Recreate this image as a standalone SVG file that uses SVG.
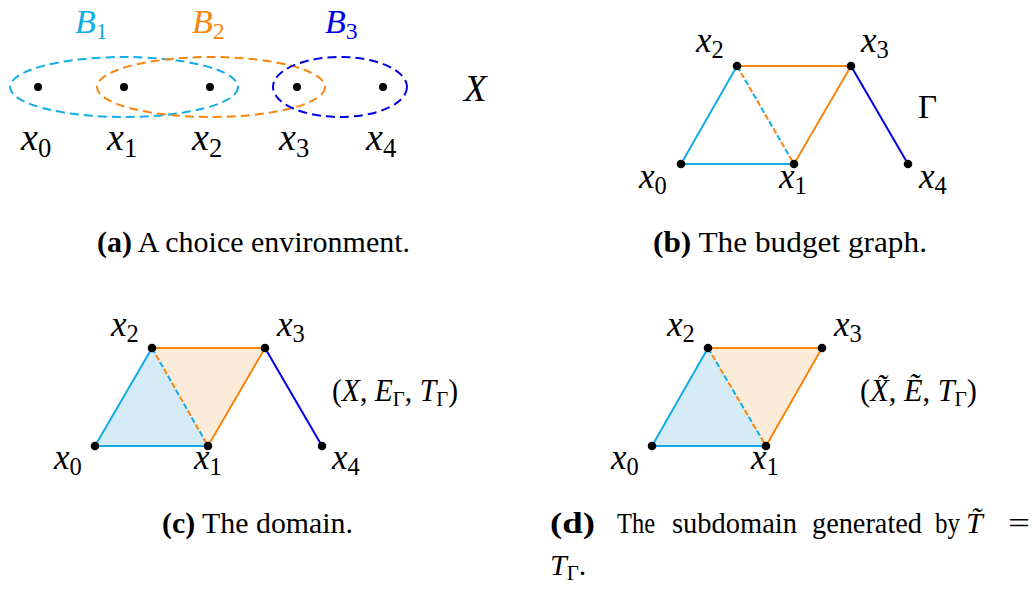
<svg xmlns="http://www.w3.org/2000/svg" width="1035" height="592" viewBox="0 0 1035 592">
<style>
.m{font-family:"Liberation Serif","Times New Roman",serif;font-style:italic;fill:#000}
.up{font-style:normal}
.sub{font-style:normal;font-size:70%}
.cap{font-family:"Liberation Serif","Times New Roman",serif;font-size:30px;fill:#000}
.b{font-weight:bold}
.dot{fill:#000}
.set{fill:none;stroke-width:2;stroke-dasharray:9 5}
.e{fill:none;stroke-width:2;stroke-linecap:round}
.cy{stroke:#13ACE6}
.or{stroke:#F7860F}
.bl{stroke:#0000E6}
.dc{stroke:#13ACE6;stroke-width:2;fill:none;stroke-dasharray:6 10}
.do{stroke:#F7860F;stroke-width:2;fill:none;stroke-dasharray:6 10;stroke-dashoffset:8}
.fb{fill:#D5EBF7}
.fo{fill:#FDEBD9}
</style>
<rect width="1035" height="592" fill="#fff"/>

<!-- Panel (a) -->
<g id="a-sets">
  <g id="set-B1">
    <ellipse class="set cy" cx="124" cy="87" rx="114" ry="30"/>
    <text class="m" x="75" y="33" font-size="34" style="fill:#13ACE6">B<tspan class="sub" dy="6">1</tspan></text>
  </g>
  <g id="set-B2">
    <ellipse class="set or" cx="211" cy="87" rx="114" ry="30"/>
    <text class="m" x="192" y="33" font-size="34" style="fill:#F7860F">B<tspan class="sub" dy="6">2</tspan></text>
  </g>
  <g id="set-B3">
    <ellipse class="set bl" cx="340" cy="87" rx="67" ry="30"/>
    <text class="m" x="325" y="33" font-size="34" style="fill:#0000E6">B<tspan class="sub" dy="6">3</tspan></text>
  </g>
</g>
<g id="a-nodes">
  <g id="a-x0"><circle class="dot" cx="38" cy="87" r="4"/><text class="m" x="21" y="150" font-size="38">x<tspan class="sub" dy="7">0</tspan></text></g>
  <g id="a-x1"><circle class="dot" cx="124" cy="87" r="4"/><text class="m" x="107" y="150" font-size="38">x<tspan class="sub" dy="7">1</tspan></text></g>
  <g id="a-x2"><circle class="dot" cx="210" cy="87" r="4"/><text class="m" x="192" y="150" font-size="38">x<tspan class="sub" dy="7">2</tspan></text></g>
  <g id="a-x3"><circle class="dot" cx="297" cy="87" r="4"/><text class="m" x="279" y="150" font-size="38">x<tspan class="sub" dy="7">3</tspan></text></g>
  <g id="a-x4"><circle class="dot" cx="383" cy="87" r="4"/><text class="m" x="366" y="150" font-size="38">x<tspan class="sub" dy="7">4</tspan></text></g>
  <g id="a-X"><text class="m" x="464" y="101" font-size="37">X</text></g>
</g>
<text class="cap" x="97" y="252" textLength="313" lengthAdjust="spacingAndGlyphs"><tspan class="b">(a)</tspan> A choice environment.</text>

<!-- Panel (b) -->
<g id="b-connectors">
  <line class="e cy" x1="681" y1="164" x2="737" y2="66"/>
  <line class="e cy" x1="681" y1="164" x2="794" y2="164"/>
  <line class="dc" x1="737" y1="66" x2="794" y2="164"/>
  <line class="do" x1="737" y1="66" x2="794" y2="164"/>
  <line class="e or" x1="737" y1="66" x2="851" y2="66"/>
  <line class="e or" x1="794" y1="164" x2="851" y2="66"/>
  <line class="e bl" x1="851" y1="66" x2="908" y2="164"/>
</g>
<g id="b-nodes">
  <g id="b-x0"><circle class="dot" cx="681" cy="164" r="4.3"/><text class="m" x="639" y="188" font-size="35">x<tspan class="sub" dy="6">0</tspan></text></g>
  <g id="b-x1"><circle class="dot" cx="794" cy="164" r="4.3"/><text class="m" x="779" y="188" font-size="35">x<tspan class="sub" dy="6">1</tspan></text></g>
  <g id="b-x2"><circle class="dot" cx="737" cy="66" r="4.3"/><text class="m" x="696" y="52" font-size="35">x<tspan class="sub" dy="6">2</tspan></text></g>
  <g id="b-x3"><circle class="dot" cx="851" cy="66" r="4.3"/><text class="m" x="861" y="52" font-size="35">x<tspan class="sub" dy="6">3</tspan></text></g>
  <g id="b-x4"><circle class="dot" cx="908" cy="164" r="4.3"/><text class="m" x="919" y="188" font-size="35">x<tspan class="sub" dy="6">4</tspan></text></g>
  <g id="b-Gamma"><text class="m" x="918" y="118" font-size="33" style="font-style:normal">Γ</text></g>
</g>
<text class="cap" x="653" y="252" textLength="274" lengthAdjust="spacingAndGlyphs"><tspan class="b">(b)</tspan> The budget graph.</text>

<!-- Panel (c) -->
<g id="c-faces">
  <polygon class="fb" points="95,446 208,446 152,348"/>
  <polygon class="fo" points="152,348 265,348 208,446"/>
</g>
<g id="c-connectors">
  <line class="e cy" x1="95" y1="446" x2="152" y2="348"/>
  <line class="e cy" x1="95" y1="446" x2="208" y2="446"/>
  <line class="dc" x1="152" y1="348" x2="208" y2="446"/>
  <line class="do" x1="152" y1="348" x2="208" y2="446"/>
  <line class="e or" x1="152" y1="348" x2="265" y2="348"/>
  <line class="e or" x1="208" y1="446" x2="265" y2="348"/>
  <line class="e bl" x1="265" y1="348" x2="322" y2="446"/>
</g>
<g id="c-nodes">
  <g id="c-x0"><circle class="dot" cx="95" cy="446" r="4.3"/><text class="m" x="54" y="469" font-size="35">x<tspan class="sub" dy="6">0</tspan></text></g>
  <g id="c-x1"><circle class="dot" cx="208" cy="446" r="4.3"/><text class="m" x="194" y="469" font-size="35">x<tspan class="sub" dy="6">1</tspan></text></g>
  <g id="c-x2"><circle class="dot" cx="152" cy="348" r="4.3"/><text class="m" x="111" y="336" font-size="35">x<tspan class="sub" dy="6">2</tspan></text></g>
  <g id="c-x3"><circle class="dot" cx="265" cy="348" r="4.3"/><text class="m" x="277" y="336" font-size="35">x<tspan class="sub" dy="6">3</tspan></text></g>
  <g id="c-x4"><circle class="dot" cx="322" cy="446" r="4.3"/><text class="m" x="332" y="469" font-size="35">x<tspan class="sub" dy="6">4</tspan></text></g>
  <g id="c-tuple"><text class="m" x="332" y="401" font-size="31" textLength="126" lengthAdjust="spacingAndGlyphs"><tspan class="up">(</tspan>X<tspan class="up">, </tspan>E<tspan class="sub" dy="5">Γ</tspan><tspan class="up" dy="-5">, </tspan>T<tspan class="sub" dy="5">Γ</tspan><tspan class="up" dy="-5">)</tspan></text></g>
</g>
<text class="cap" x="162" y="533" textLength="191" lengthAdjust="spacingAndGlyphs"><tspan class="b">(c)</tspan> The domain.</text>

<!-- Panel (d) -->
<g id="d-faces">
  <polygon class="fb" points="652,446 766,446 708,348"/>
  <polygon class="fo" points="708,348 822,348 766,446"/>
</g>
<g id="d-connectors">
  <line class="e cy" x1="652" y1="446" x2="708" y2="348"/>
  <line class="e cy" x1="652" y1="446" x2="766" y2="446"/>
  <line class="dc" x1="708" y1="348" x2="766" y2="446"/>
  <line class="do" x1="708" y1="348" x2="766" y2="446"/>
  <line class="e or" x1="708" y1="348" x2="822" y2="348"/>
  <line class="e or" x1="766" y1="446" x2="822" y2="348"/>
</g>
<g id="d-nodes">
  <g id="d-x0"><circle class="dot" cx="652" cy="446" r="4.3"/><text class="m" x="611" y="469" font-size="35">x<tspan class="sub" dy="6">0</tspan></text></g>
  <g id="d-x1"><circle class="dot" cx="766" cy="446" r="4.3"/><text class="m" x="751" y="469" font-size="35">x<tspan class="sub" dy="6">1</tspan></text></g>
  <g id="d-x2"><circle class="dot" cx="708" cy="348" r="4.3"/><text class="m" x="667" y="336" font-size="35">x<tspan class="sub" dy="6">2</tspan></text></g>
  <g id="d-x3"><circle class="dot" cx="822" cy="348" r="4.3"/><text class="m" x="834" y="336" font-size="35">x<tspan class="sub" dy="6">3</tspan></text></g>
  <g id="d-tuple"><text class="m" x="860" y="401" font-size="31" textLength="117" lengthAdjust="spacingAndGlyphs"><tspan class="up">(</tspan>X̃<tspan class="up">, </tspan>Ẽ<tspan class="up">, </tspan>T<tspan class="sub" dy="5">Γ</tspan><tspan class="up" dy="-5">)</tspan></text></g>
</g>
<g id="d-caption">
  <text class="cap b" x="550" y="533" textLength="45" lengthAdjust="spacingAndGlyphs">(d)</text>
  <text class="cap" x="617" y="533" textLength="38" lengthAdjust="spacingAndGlyphs">The</text>
  <text class="cap" x="672" y="533" textLength="125" lengthAdjust="spacingAndGlyphs">subdomain</text>
  <text class="cap" x="812" y="533" textLength="110" lengthAdjust="spacingAndGlyphs">generated</text>
  <text class="cap" x="935" y="533" textLength="25" lengthAdjust="spacingAndGlyphs">by</text>
  <text class="m" x="966" y="533" font-size="30">T̃</text>
  <text class="cap" x="1008" y="533" textLength="22" lengthAdjust="spacingAndGlyphs">=</text>
  <text class="m" x="550" y="575" font-size="30">T<tspan class="sub" dy="5">Γ</tspan><tspan class="up" dy="-5">.</tspan></text>
</g>
</svg>
